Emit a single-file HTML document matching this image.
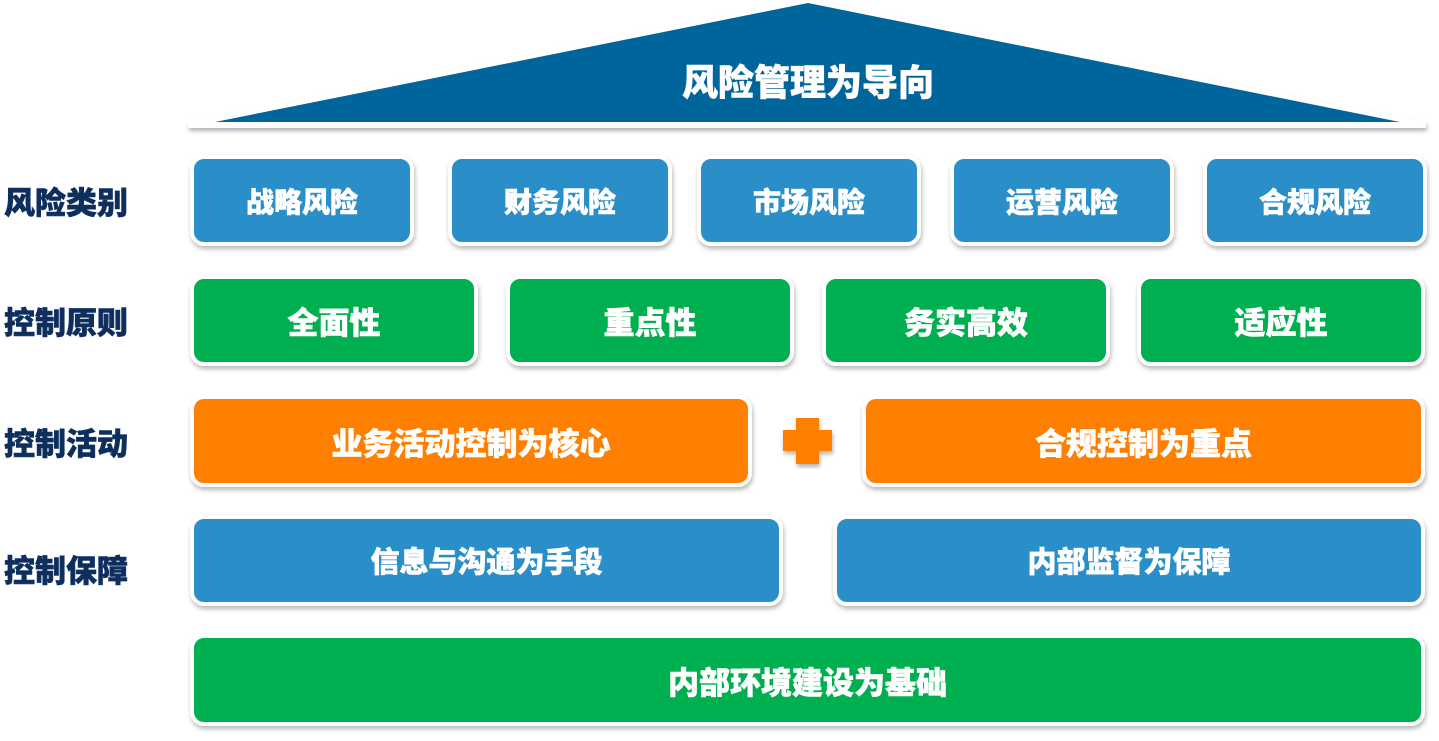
<!DOCTYPE html>
<html><head><meta charset="utf-8"><style>
body{margin:0;width:1439px;height:741px;background:#fff;position:relative;overflow:hidden;font-family:"Noto Sans CJK SC",sans-serif;font-weight:900}
.b{position:absolute;box-sizing:border-box;border:4px solid #fff;border-radius:14px;box-shadow:1px 3px 5px rgba(0,0,0,.28);color:#fff;display:flex;align-items:center;justify-content:center;font-size:31px;-webkit-text-stroke:0.6px #fff;line-height:1}
.bl{background:#2a8fc9}.g{background:#00b050}.o{background:#ff7f00}
.l{position:absolute;left:4px;color:#0e2f5e;font-size:31px;line-height:36px;-webkit-text-stroke:0.6px #0e2f5e}
</style></head><body>
<svg width="1439" height="741" style="position:absolute;left:0;top:0">
<defs><filter id="s"><feDropShadow dx="1" dy="3" stdDeviation="2" flood-opacity=".3"/></filter></defs>
<polygon points="188,122 808,0 1426,122 1426,128 188,128" fill="#fff" filter="url(#s)"/>
<polygon points="215,122 808,3 1400,122" fill="#00659a"/>
<text x="808" y="95" fill="#fff" stroke="#fff" stroke-width="0.6" font-size="36" font-weight="900" text-anchor="middle" font-family="Noto Sans CJK SC,sans-serif">风险管理为导向</text>
<polygon points="783,430 796,430 796,418 819,418 819,430 832,430 832,451 819,451 819,464 796,464 796,451 783,451" fill="#ff7f00" filter="url(#s)"/>
</svg>
<div class="l" style="top:183px">风险类别</div>
<div class="l" style="top:303px">控制原则</div>
<div class="l" style="top:424px">控制活动</div>
<div class="l" style="top:551px">控制保障</div>
<div class="b bl" style="left:190px;top:155px;width:224px;height:91px;font-size:28px">战略风险</div>
<div class="b bl" style="left:448px;top:155px;width:224px;height:91px;font-size:28px">财务风险</div>
<div class="b bl" style="left:697px;top:155px;width:224px;height:91px;font-size:28px">市场风险</div>
<div class="b bl" style="left:950px;top:155px;width:224px;height:91px;font-size:28px">运营风险</div>
<div class="b bl" style="left:1203px;top:155px;width:224px;height:91px;font-size:28px">合规风险</div>
<div class="b g" style="left:190px;top:275px;width:288px;height:91px">全面性</div>
<div class="b g" style="left:506px;top:275px;width:288px;height:91px">重点性</div>
<div class="b g" style="left:822px;top:275px;width:288px;height:91px">务实高效</div>
<div class="b g" style="left:1137px;top:275px;width:288px;height:91px">适应性</div>
<div class="b o" style="left:190px;top:395px;width:562px;height:92px">业务活动控制为核心</div>
<div class="b o" style="left:862px;top:395px;width:563px;height:92px">合规控制为重点</div>
<div class="b bl" style="left:190px;top:515px;width:593px;height:91px;font-size:29px">信息与沟通为手段</div>
<div class="b bl" style="left:833px;top:515px;width:592px;height:91px;font-size:29px">内部监督为保障</div>
<div class="b g" style="left:190px;top:634px;width:1235px;height:92px">内部环境建设为基础</div>
</body></html>
